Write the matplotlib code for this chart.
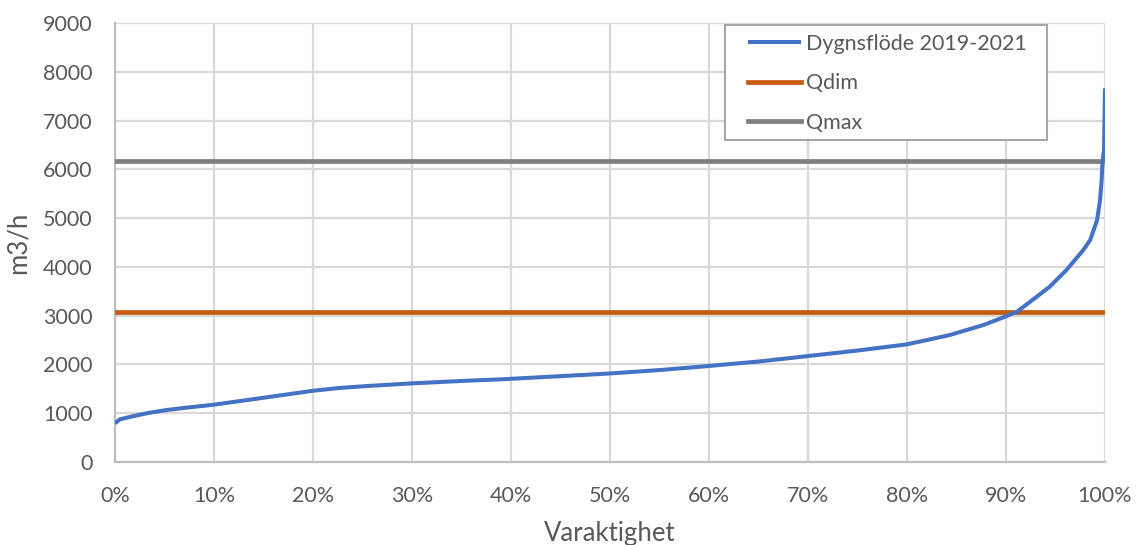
"""Varaktighetskurva för dygnsflöde 2019-2021 med Qdim och Qmax."""

import matplotlib
matplotlib.use("Agg")
import matplotlib.pyplot as plt
from matplotlib.patches import Rectangle
from matplotlib.ticker import PercentFormatter

plt.rcParams["font.family"] = ["Lato", "DejaVu Sans"]

# Varaktighet (andel av dygn, %) och dygnsflöde (m3/h), sorterat stigande
duration_pct = [0.0, 0.5, 1.9, 3.5, 5.2, 7.5, 10.0, 15.3, 20.0, 22.5, 25.4,
                30.0, 35.5, 38.9, 45.0, 50.0, 55.0, 59.1, 65.0, 70.0, 75.0,
                80.0, 84.3, 87.7, 89.9, 91.1, 93.1, 94.4, 96.1, 97.8, 98.5,
                99.2, 99.5, 99.66, 99.76, 99.9, 100.0]
daily_flow = [793, 875, 943, 1010, 1066, 1120, 1175, 1326, 1460, 1515, 1557,
              1612, 1666, 1694, 1760, 1815, 1885, 1953, 2060, 2172, 2285,
              2412, 2602, 2807, 2978, 3080, 3387, 3592, 3934, 4344, 4549,
              4959, 5369, 5779, 6180, 6393, 7660]

q_dim = 3080
q_max = 6170

text_col = "#595959"
grid_col = "#d9d9d9"
W, H = 1147, 545

fig = plt.figure(figsize=(W / 100, H / 100), dpi=100)
ax = fig.add_axes([115 / W, 1 - 462 / H, 990 / W, 439 / H])

ax.plot(duration_pct, daily_flow, color="#4472C4", lw=2.9,
        label="Dygnsflöde 2019-2021", zorder=4, solid_capstyle="butt")
ax.axhline(q_dim, color="#C55A11", lw=3.4, label="Qdim", zorder=3)
ax.axhline(q_max, color="#7F7F7F", lw=3.4, label="Qmax", zorder=3)

ax.set_xlim(0, 100)
ax.set_ylim(0, 9000)
ax.set_xticks(range(0, 101, 10))
ax.set_yticks(range(0, 9001, 1000))
ax.xaxis.set_major_formatter(PercentFormatter(decimals=0))
ax.tick_params(length=0, labelsize=15.5, labelcolor=text_col)
ax.tick_params(axis="x", pad=17)
ax.tick_params(axis="y", pad=16)

ax.grid(True, color=grid_col, lw=1.6)
ax.set_axisbelow(True)
for side in ["top", "right"]:
    ax.spines[side].set_visible(False)
for side in ["left", "bottom"]:
    ax.spines[side].set_color("#bfbfbf")
    ax.spines[side].set_linewidth(1.6)

ax.set_xlabel("Varaktighet", fontsize=18.5, color=text_col, labelpad=11)
ax.set_ylabel("m3/h", fontsize=18.5, color=text_col, labelpad=9)

# legendram ritas separat för att få större marginal till vänster
ax.add_patch(Rectangle((725 / W, 1 - 140 / H), 322 / W, 115 / H,
                       transform=fig.transFigure, facecolor="white",
                       edgecolor="#a6a6a6", lw=1.5, zorder=5, clip_on=False))
leg = ax.legend(loc="upper left", bbox_to_anchor=(748 / W, 1 - 34 / H),
                bbox_transform=fig.transFigure, fontsize=15.5,
                frameon=False, handlelength=2.45, handletextpad=0.25,
                borderpad=0, labelspacing=0.9, borderaxespad=0)
leg.set_zorder(6)
for t in leg.get_texts():
    t.set_color(text_col)

fig.savefig("out.png", dpi=100, facecolor="white")
